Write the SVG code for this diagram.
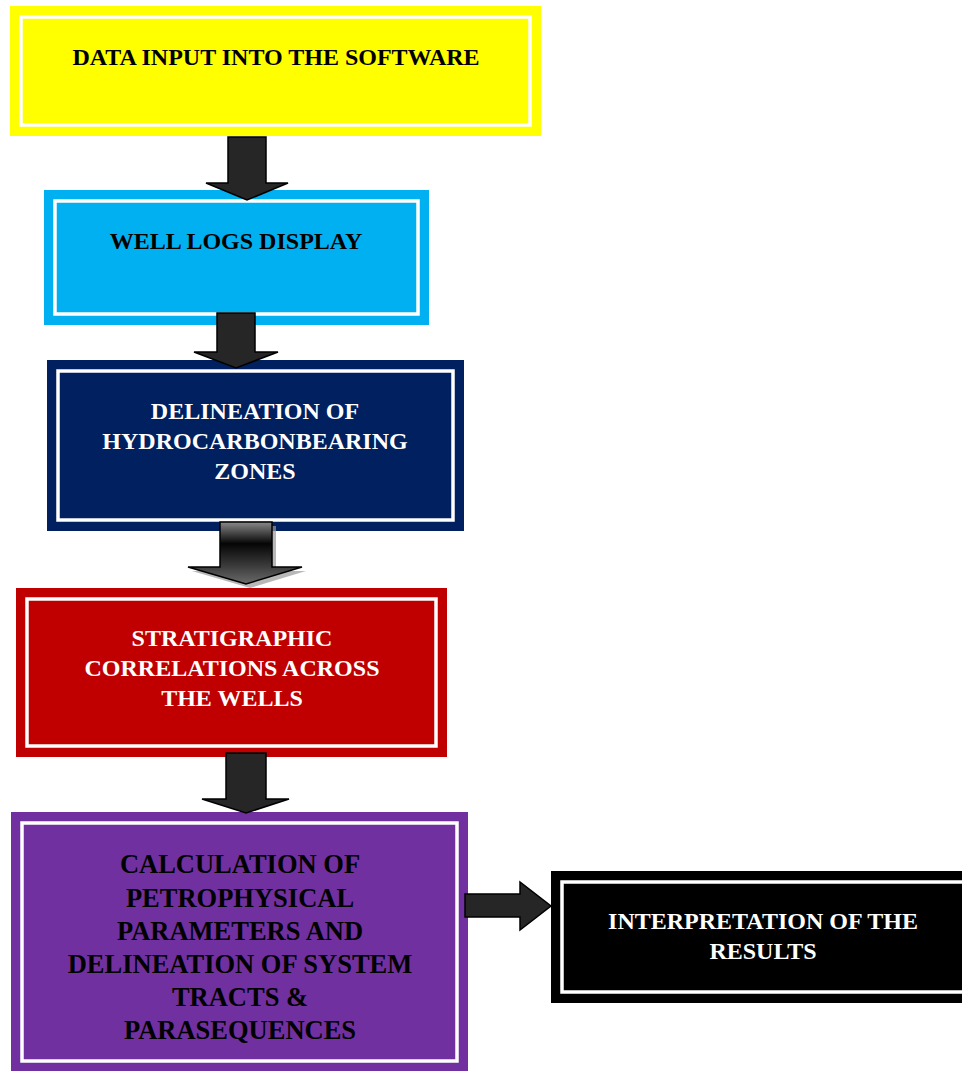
<svg xmlns="http://www.w3.org/2000/svg" width="962" height="1071" viewBox="0 0 962 1071">
<defs>
<style>
.inner{fill:none;stroke:#ffffff;stroke-width:3.5}
.t{font-family:"Liberation Serif","Times New Roman",serif;font-weight:bold;font-size:24px;text-anchor:middle}
.big{font-size:26.5px}
.w{fill:#ffffff}
.k{fill:#000000}
.arr{fill:#262626;stroke:#000000;stroke-width:1.5;stroke-linejoin:miter}
</style>
<linearGradient id="g3" x1="0" y1="0" x2="0" y2="1">
<stop offset="0" stop-color="#8a8a8a"/>
<stop offset="0.35" stop-color="#050505"/>
<stop offset="0.7" stop-color="#3a3a3a"/>
<stop offset="1" stop-color="#6a6a6a"/>
</linearGradient>
</defs>
<rect width="962" height="1071" fill="#ffffff"/>

<g id="node1">
<rect x="10" y="6" width="531" height="130" fill="#ffff00"/>
<rect class="inner" x="21" y="17" width="509" height="108"/>
<text class="t k" x="276" y="65">DATA INPUT INTO THE SOFTWARE</text>
</g>

<g id="node2">
<rect x="44" y="190" width="385" height="135" fill="#00b0f0"/>
<rect class="inner" x="55" y="201" width="363" height="113"/>
<text class="t k" x="236" y="249">WELL LOGS DISPLAY</text>
</g>

<g id="node3">
<rect x="47" y="360" width="417" height="171" fill="#002060"/>
<rect class="inner" x="58" y="371" width="395" height="149"/>
<text class="t w" x="255" y="419">DELINEATION OF</text>
<text class="t w" x="255" y="449">HYDROCARBONBEARING</text>
<text class="t w" x="255" y="479">ZONES</text>
</g>

<g id="node4">
<rect x="16" y="588" width="431" height="169" fill="#c00000"/>
<rect class="inner" x="27" y="599" width="409" height="147"/>
<text class="t w" x="232" y="646">STRATIGRAPHIC</text>
<text class="t w" x="232" y="676">CORRELATIONS ACROSS</text>
<text class="t w" x="232" y="706">THE WELLS</text>
</g>

<g id="node5">
<rect x="11" y="812" width="457" height="262" fill="#7030a0"/>
<rect class="inner" x="22" y="823" width="435" height="238"/>
<text class="t big k" x="240" y="873">CALCULATION OF</text>
<text class="t big k" x="240" y="907">PETROPHYSICAL</text>
<text class="t big k" x="240" y="940">PARAMETERS AND</text>
<text class="t big k" x="240" y="973">DELINEATION OF SYSTEM</text>
<text class="t big k" x="240" y="1006">TRACTS &amp;</text>
<text class="t big k" x="240" y="1039">PARASEQUENCES</text>
</g>

<g id="node6">
<rect x="551" y="871" width="430" height="132" fill="#000000"/>
<rect class="inner" x="562" y="882" width="410" height="110"/>
<text class="t w" x="763" y="929">INTERPRETATION OF THE</text>
<text class="t w" x="763" y="959">RESULTS</text>
</g>

<g id="connectors">
<polygon class="arr" points="228,137 266,137 266,183 288,183 247,200 206,183 228,183"/>
<polygon class="arr" points="217,313 255,313 255,352 278,352 236,368 194,352 217,352"/>
<polygon points="224,526 276,526 276,571 306,571 250,588 192,571 224,571" fill="#9a9a9a" opacity="0.7"/>
<polygon points="220,522 272,522 272,567 302,567 246,584 188,567 220,567" fill="url(#g3)" stroke="#000" stroke-width="1.5"/>
<polygon class="arr" points="226,753 266,753 266,799 289,799 246,813 202,799 226,799"/>
<polygon class="arr" points="465,894 520,894 520,882 551,906 520,930 520,917 465,917"/>
</g>
</svg>
